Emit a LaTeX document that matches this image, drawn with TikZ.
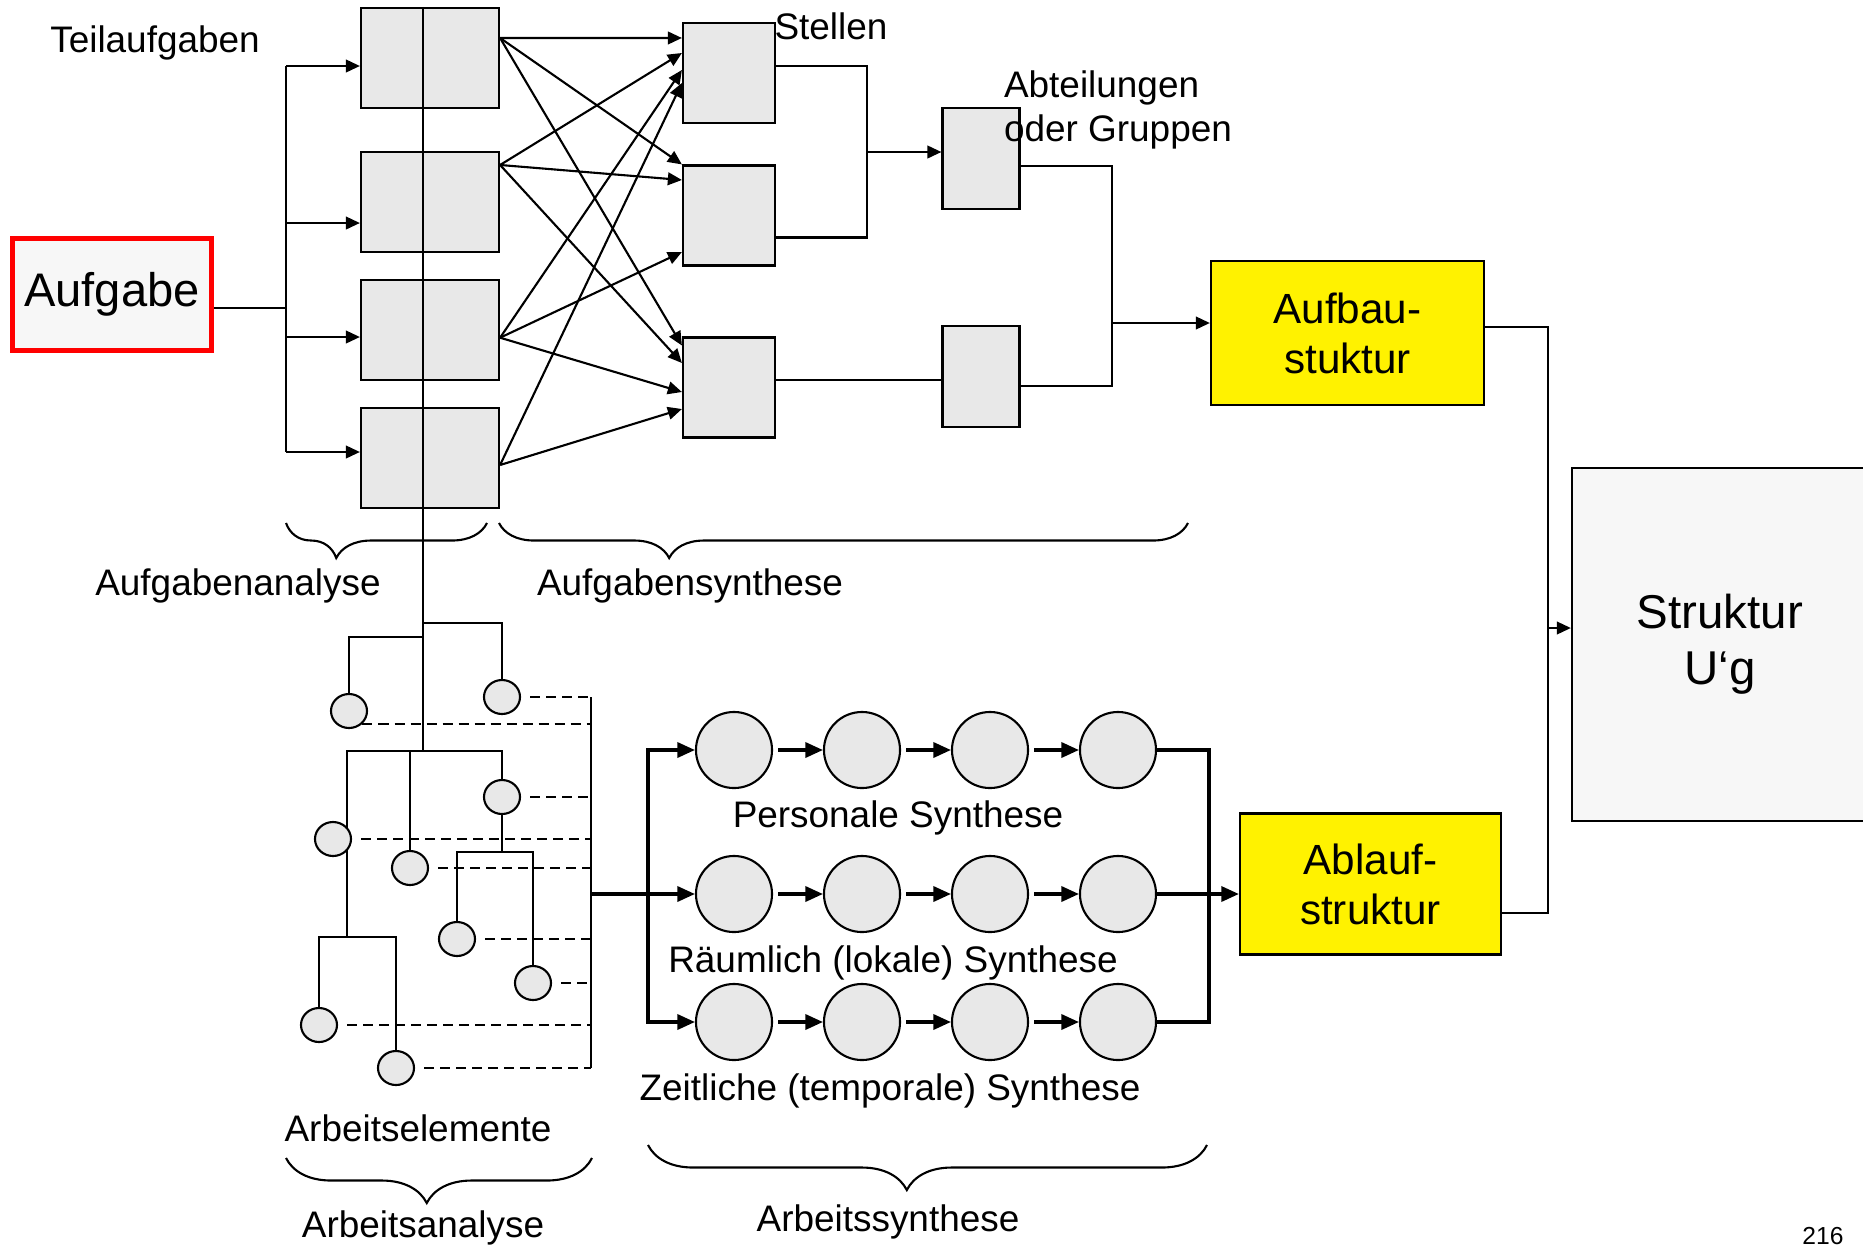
\documentclass[tikz,border=0pt]{standalone}
\usepackage{fontspec}
\setmainfont{Liberation Sans}
\usetikzlibrary{arrows.meta,positioning,shapes.geometric,decorations.pathreplacing,backgrounds}

\definecolor{boxgray}{HTML}{E8E8E8}
\definecolor{lightbg}{HTML}{F7F7F7}
\definecolor{markred}{HTML}{FF0000}

\begin{document}
\begin{tikzpicture}[x=0.01cm,y=-0.01cm,line width=0.6pt,
                    >={Triangle[length=4pt,width=3.6pt]},
                    box node/.style={rectangle,draw,fill=boxgray,inner sep=0pt},
                    teil node/.style={box node,minimum width=1.38cm,minimum height=1cm},
                    stelle node/.style={box node,minimum width=0.92cm,minimum height=1cm},
                    abt node/.style={box node,minimum width=0.77cm,minimum height=1.01cm},
                    elem node/.style={ellipse,draw,fill=boxgray,minimum width=0.36cm,minimum height=0.34cm,inner sep=0pt},
                    syn node/.style={circle,draw,fill=boxgray,minimum size=0.76cm,inner sep=0pt},
                    yellow node/.style={rectangle,draw,fill=yellow,align=center,font=\fontsize{12}{14.2}\selectfont},
                    lbl/.style={font=\fontsize{10.5}{12.6}\selectfont,inner sep=0pt},
                    klammer/.style 2 args={decorate,decoration={brace,mirror,amplitude=#1,aspect=#2}}]
\useasboundingbox (0,0) rectangle (1863,1248);
\clip (0,0) rectangle (1863,1248);

% Create nodes for the Aufbau part
\node[rectangle,draw=markred,line width=1.5pt,fill=lightbg,minimum width=1.91cm,minimum height=1.12cm,
      font=\fontsize{13.4}{16}\selectfont] (aufgabe) at (112,294.5) {Aufgabe};
\node[teil node] (ta1) at (430,58) {};
\node[teil node] (ta2) at (430,202) {};
\node[teil node] (ta3) at (430,330) {};
\node[teil node] (ta4) at (430,458) {};
\node[stelle node] (st1) at (729,73) {};
\node[stelle node] (st2) at (729,215.5) {};
\node[stelle node] (st3) at (729,387.5) {};
\node[abt node] (ab1) at (981,158.5) {};
\node[abt node] (ab2) at (981,376.5) {};
\node[yellow node,minimum width=2.73cm,minimum height=1.44cm] (aufbau) at (1347.5,333) {Aufbau-\\stuktur};
\node[yellow node,minimum width=2.61cm,minimum height=1.41cm] (ablauf) at (1370.5,884) {Ablauf-\\struktur};
\node[rectangle,draw,fill=lightbg,minimum width=2.96cm,minimum height=3.53cm,align=center,
      font=\fontsize{13.5}{15.9}\selectfont] (struktur) at (1720,644.5) {Struktur\\U‘g};

% Create nodes for the Arbeitselemente
\node[elem node] (el1) at (502,697) {};
\node[elem node] (el2) at (349,711) {};
\node[elem node] (el3) at (333,839) {};
\node[elem node] (el4) at (410,868) {};
\node[elem node] (el5) at (502,797) {};
\node[elem node] (el6) at (457,939) {};
\node[elem node] (el7) at (533,983) {};
\node[elem node] (el8) at (319,1025) {};
\node[elem node] (el9) at (396,1068) {};

% Create nodes for the Synthese rows
\foreach \r/\y in {1/750,2/894,3/1022}
  \foreach \c/\x in {1/734,2/862,3/990,4/1118}
    \node[syn node] (syn-\r-\c) at (\x,\y) {};

% Labels
\node[lbl] (teilaufgaben) at (155,43) {Teilaufgaben};
\node[lbl] (stellen) at (831,26) {Stellen};
\node[lbl,align=left,anchor=west] (abteilungen) at (1003,110) {Abteilungen\\oder Gruppen};
\node[lbl] (aufgabenanalyse) at (238,586) {Aufgabenanalyse};
\node[lbl] (aufgabensynthese) at (690,586) {Aufgabensynthese};
\node[lbl] (personal) at (898,818) {Personale Synthese};
\node[lbl] (raeumlich) at (893,963) {Räumlich (lokale) Synthese};
\node[lbl] (zeitlich) at (890,1091) {Zeitliche (temporale) Synthese};
\node[lbl] (arbeitselemente) at (418,1128) {Arbeitselemente};
\node[lbl] (arbeitsanalyse) at (423,1228) {Arbeitsanalyse};
\node[lbl] (arbeitssynthese) at (888,1222) {Arbeitssynthese};
\node[font=\fontsize{7}{8}\selectfont,anchor=south,inner sep=0pt] (seite) at (1823,1246) {216};

% Create edges for the Aufgabenanalyse
\coordinate (gabel) at (286,308);
\coordinate (stamm) at (423,751);
\draw (aufgabe.east |- gabel) -- (gabel);
\draw ([yshift=-0.8mm]gabel |- ta1.west) -- ([yshift=0.6mm]gabel |- ta4.west);
\draw[->] ([yshift=-0.8mm]gabel |- ta1.west) -- ([yshift=-0.8mm]ta1.west);
\draw[->] ([yshift=-2.1mm]gabel |- ta2.west) -- ([yshift=-2.1mm]ta2.west);
\draw[->] ([yshift=-0.7mm]gabel |- ta3.west) -- ([yshift=-0.7mm]ta3.west);
\draw[->] ([yshift=0.6mm]gabel |- ta4.west) -- ([yshift=0.6mm]ta4.west);
\draw (stamm |- ta1.north) -- (stamm);

% Create edges for the Aufgabensynthese
\draw[->] ([yshift=2mm]ta1.east) -- ([yshift=3.5mm]st1.west);
\draw[->] ([yshift=2mm]ta1.east) -- (st2.north west);
\draw[->] ([yshift=2mm]ta1.east) -- ([yshift=4.2mm]st3.west);
\draw[->] ([yshift=3.7mm]ta2.east) -- ([yshift=2mm]st1.west);
\draw[->] ([yshift=3.7mm]ta2.east) -- ([yshift=3.55mm]st2.west);
\draw[->] ([yshift=3.7mm]ta2.east) -- ([yshift=2.45mm]st3.west);
\draw[->] ([yshift=-0.77mm]ta3.east) -- ([yshift=0.3mm]st1.west);
\draw[->] ([yshift=-0.77mm]ta3.east) -- ([yshift=-3.65mm]st2.west);
\draw[->] ([yshift=-0.77mm]ta3.east) -- ([yshift=-0.45mm]st3.west);
\draw[->] ([yshift=-0.7mm]ta4.east) -- ([yshift=-1mm]st1.west);
\draw[->] ([yshift=-0.7mm]ta4.east) -- ([yshift=-2.15mm]st3.west);

\coordinate (sknick) at (867,152);
\draw ([yshift=0.7mm]st1.east) -| (sknick) |- ([yshift=-2.2mm]st2.east);
\draw[->] (sknick) -- (sknick -| ab1.west);
\draw ([yshift=0.75mm]st3.east) -- ([yshift=0.75mm]st3.east -| ab2.west);

\coordinate (aknick) at (1112,323);
\draw ([yshift=-0.75mm]ab1.east) -| (aknick) |- ([yshift=-0.95mm]ab2.east);
\draw[->] (aknick) -- (aknick -| aufbau.west);

\coordinate (uknick) at (1548,628);
\draw ([yshift=0.6mm]aufbau.east) -| (uknick) |- ([yshift=-2.9mm]ablauf.east);
\draw[->] (uknick) -- (uknick -| struktur.west);

% Create edges for the Arbeitsanalyse
\coordinate (k2) at (347,937);
\coordinate (k3) at (502,852);
\coordinate (ekante) at (591,894);
\begin{scope}[on background layer]
\draw (423,623) -| (el1.north);
\draw (423,637) -| (el2.north);
\draw (k2) |- (stamm) -| (el5.north);
\draw (el4.north) -- (el4.north |- stamm);
\draw (el8.north) |- (k2) -| (el9.north);
\draw (el5.south) -- (k3);
\draw (el6.north) |- (k3) -| (el7.north);
\end{scope}
\draw (ekante |- el1.east) -- (ekante |- el9.east);
\foreach \e in {el1,el3,el4,el5,el6,el7,el8,el9}
  \draw[dash pattern=on 1mm off 0.6mm,shorten <=0.9mm] (\e.east) -- (\e.east -| ekante);
\draw[dash pattern=on 1mm off 0.6mm] (el2.south east) -- (el2.south east -| ekante);

% Create edges for the Arbeitssynthese
\coordinate (synlinks) at (648,894);
\coordinate (synrechts) at (1209,894);
\begin{scope}[line width=0.9pt,>={Triangle[length=5pt,width=4.3pt]}]
\draw[->] (ekante) -- (syn-2-1.west);
\draw[->] (synlinks) |- (syn-1-1.west);
\draw[->] (synlinks) |- (syn-3-1.west);
\foreach \r in {1,2,3}
  \foreach \a/\b in {1/2,2/3,3/4}
    \draw[->,shorten <=0.5mm] (syn-\r-\a) -- (syn-\r-\b);
\draw (syn-1-4.east) -| (synrechts);
\draw (syn-3-4.east) -| (synrechts);
\draw[->] (syn-2-4.east) -- (syn-2-4.east -| ablauf.west);
\end{scope}

% Braces
\draw[klammer={0.35cm}{0.25}] (286,523) -- (487,523);
\draw[klammer={0.35cm}{0.247}] (499,523) -- (1188,523);
\draw[klammer={0.45cm}{0.46}] (286,1158) -- (592,1158);
\draw[klammer={0.45cm}{0.463}] (648,1145) -- (1207,1145);
\end{tikzpicture}
\end{document}
